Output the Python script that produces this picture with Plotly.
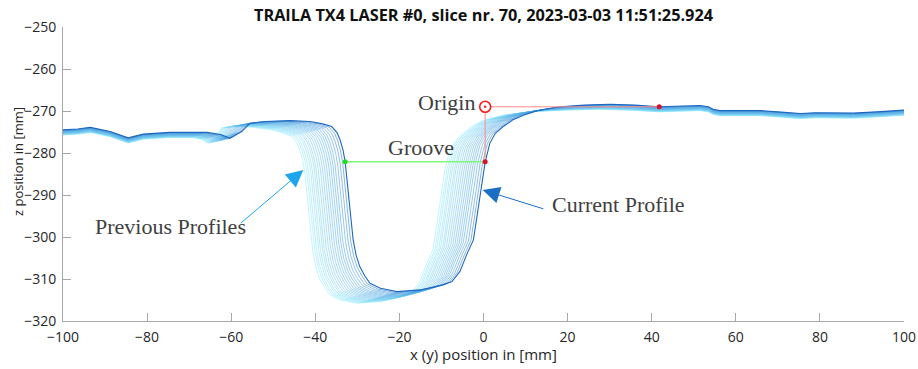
import numpy as np
import plotly.graph_objects as go

# ---------------- data ----------------
title_text = "TRAILA TX4 LASER #0, slice nr. 70, 2023-03-03 11:51:25.924"

# current (latest) laser profile: x (y) position [mm], z position [mm]
profile_x = [-100, -96.5, -93.5, -88.8, -84.5, -80.9, -74.6, -65.8, -62.5, -60.3,
             -57.5, -55.5, -52.0, -46.0, -41.3, -38.5, -36.1, -34.8, -34.1, -33.4,
             -32.9, -32.5, -32.1, -31.6, -31.0, -30.3, -29.4, -28.2, -27.0, -24.5,
             -20.6, -15.1, -11.9, -9.6, -7.5, -5.6, -4.0, -2.4, -1.2, -0.4,
             0.4, 1.5, 2.8, 4.7, 7.0, 9.5, 13.0, 18.2, 24.0, 30.1,
             36.0, 41.8, 47.0, 51.5, 53.5, 54.6, 56.2, 60.0, 65.8, 70.0,
             75.3, 79.0, 83.2, 88.0, 93.5, 97.0, 100.0]
profile_z = [-274.5, -274.3, -273.9, -274.9, -276.4, -275.5, -275.1, -275.1, -275.6, -276.5,
             -274.9, -272.9, -272.5, -272.3, -272.5, -273.0, -273.7, -275.2, -276.9, -279.3,
             -282.1, -286.0, -291.2, -296.0, -300.7, -304.3, -307.1, -309.3, -311.0, -312.2,
             -313.0, -312.6, -312.0, -311.4, -310.6, -308.2, -304.2, -300.7, -292.8, -287.2,
             -282.1, -277.7, -275.3, -273.7, -272.1, -271.0, -269.9, -269.0, -268.6, -268.4,
             -268.6, -269.0, -268.8, -268.7, -269.0, -269.6, -269.9, -269.9, -269.9, -270.2,
             -270.6, -270.4, -270.4, -270.5, -270.2, -269.9, -269.8]

# groove displacement of each previous profile relative to the current one (oldest -> newest)
shift_x = [-9.6, -9.1, -8.7, -8.2, -7.8, -7.3, -6.9, -6.4, -5.9, -5.4,
           -4.9, -4.4, -3.9, -3.4, -2.9, -2.4, -1.8, -1.2, -0.6, 0.0]
shift_z = [-1.20, -1.15, -1.10, -1.05, -1.00, -0.95, -0.90, -0.84, -0.78, -0.72,
           -0.66, -0.60, -0.53, -0.46, -0.39, -0.32, -0.24, -0.16, -0.08, 0.0]

origin_x, origin_z = [0.4], [-269.0]
groove_x, groove_z = [-32.9, 0.4], [-282.1, -282.1]
flat_ref_x, flat_ref_z = [41.8], [-269.0]

x_ticks = [-100, -80, -60, -40, -20, 0, 20, 40, 60, 80, 100]
z_ticks = [-320, -310, -300, -290, -280, -270, -260, -250]

# ---------------- figure ----------------
fig = go.Figure()

px_ = np.array(profile_x, dtype=float)
pz_ = np.array(profile_z, dtype=float)
# how strongly each part of the profile follows the groove movement
wx = np.interp(px_, [-100, -75, -48, 10, 40, 100], [0, 0, 1, 1, 0, 0])
wz = np.interp(px_, [-100, -50, -30, -8, 10, 100], [1, 1, 2.3, 2.3, 1, 1])

old_c = np.array([150, 238, 255])
mid_c = np.array([70, 160, 225])
new_c = np.array([28, 105, 192])
n = len(shift_x)
for i, (dx, dz) in enumerate(zip(shift_x, shift_z)):
    t = i / (n - 1)
    if t < 0.85:
        c = old_c + (mid_c - old_c) * (t / 0.85)
    else:
        c = mid_c + (new_c - mid_c) * ((t - 0.85) / 0.15)
    col = "rgb(%d,%d,%d)" % tuple(c.astype(int))
    fig.add_trace(go.Scatter(
        x=px_ + dx * wx, y=pz_ + dz * wz, mode="lines",
        line=dict(color=col, width=1.1 if i == n - 1 else 0.8),
        opacity=1.0 if i == n - 1 else 0.7,
        hoverinfo="skip", showlegend=False))

# groove line
fig.add_trace(go.Scatter(x=groove_x, y=groove_z, mode="lines",
                         line=dict(color="#7dfa7d", width=1.5), showlegend=False, hoverinfo="skip"))
# origin reference lines
fig.add_trace(go.Scatter(x=[flat_ref_x[0], origin_x[0], groove_x[1]],
                         y=[flat_ref_z[0], origin_z[0], groove_z[1]], mode="lines",
                         line=dict(color="#ff8a8a", width=1), showlegend=False, hoverinfo="skip"))
# points
fig.add_trace(go.Scatter(x=[groove_x[0]], y=[groove_z[0]], mode="markers",
                         marker=dict(color="#1fe01f", size=5), showlegend=False))
fig.add_trace(go.Scatter(x=[groove_x[1], flat_ref_x[0]], y=[groove_z[1], flat_ref_z[0]], mode="markers",
                         marker=dict(color="#d8102a", size=5), showlegend=False))
fig.add_trace(go.Scatter(x=origin_x, y=origin_z, mode="markers",
                         marker=dict(color="white", size=11, line=dict(color="#ff1a1a", width=1.6)),
                         showlegend=False))
fig.add_trace(go.Scatter(x=origin_x, y=origin_z, mode="markers",
                         marker=dict(color="#ff1a1a", size=2.5), showlegend=False))

serif = "Liberation Serif, Times New Roman, serif"
label_col = "#404040"
annos = [
    dict(x=origin_x[0], y=origin_z[0], text="Origin", xanchor="right", yanchor="middle",
         xshift=-8, yshift=4, showarrow=False),
    dict(x=(groove_x[0] + groove_x[1]) / 2, y=groove_z[0], text="Groove", xanchor="center",
         yanchor="middle", yshift=14, xshift=6, showarrow=False),
    dict(x=-74.5, y=-297.5, text="Previous Profiles", xanchor="center", yanchor="middle",
         showarrow=False),
    dict(x=32.1, y=-292.2, text="Current Profile", xanchor="center", yanchor="middle",
         showarrow=False),
]
for a in annos:
    a.update(xref="x", yref="y", font=dict(family=serif, size=22, color=label_col))
    fig.add_annotation(**a)

# arrows
fig.add_annotation(x=-42.85, y=-284.05, ax=-58.07, ay=-296.98, xref="x", yref="y",
                   axref="x", ayref="y", text="", showarrow=True, arrowhead=2,
                   arrowsize=3.4, arrowwidth=1, arrowcolor="#1ea6ec")
fig.add_annotation(x=-0.19, y=-288.8, ax=14.6, ay=-293.4, xref="x", yref="y",
                   axref="x", ayref="y", text="", showarrow=True, arrowhead=2,
                   arrowsize=3.4, arrowwidth=1, arrowcolor="#1b6fc2")

W, H = 918, 369
sans = "Open Sans, Noto Sans, sans-serif"
tick_font = dict(family=sans, size=14, color="#262626")
fig.add_annotation(x=0.5, y=0, xref="paper", yref="paper", text="x (y) position in [mm]",
                   showarrow=False, yshift=-33, yanchor="middle",
                   font=dict(family=sans, size=15, color="#262626"))
fig.add_annotation(x=0, y=(321 - 162) / 294, xref="paper", yref="paper", text="z position in [mm]",
                   showarrow=False, xshift=-45, xanchor="center", yanchor="middle", textangle=-90,
                   font=dict(family=sans, size=13, color="#262626"))

axis_common = dict(showgrid=False, zeroline=False, showline=True, linecolor="#a8a8a8",
                   linewidth=1, ticks="inside", ticklen=8, tickcolor="#a8a8a8",
                   tickfont=tick_font, automargin=False)
fig.update_layout(
    template="none",
    width=W, height=H,
    margin=dict(l=63, r=14, t=27, b=48, pad=0),
    paper_bgcolor="white", plot_bgcolor="white",
    font=dict(family=sans, color="#262626"),
    title=dict(text="<b>" + title_text + "</b>", x=0.5, xref="paper", y=1 - 15 / H,
               yref="container", yanchor="middle", xanchor="center", automargin=False,
               font=dict(family=sans, size=16.3, color="#111111")),
    xaxis=dict(range=[-100, 100], tickvals=x_ticks, ticklabelstandoff=3, **axis_common),
    yaxis=dict(range=[-320, -250], tickvals=z_ticks, ticklabelstandoff=3, **axis_common),
)

# remove the browser's default page margin so the figure fills the window exactly
fig.write_html("out.html", config={"displayModeBar": False},
               post_script="document.body.style.margin='0';")
